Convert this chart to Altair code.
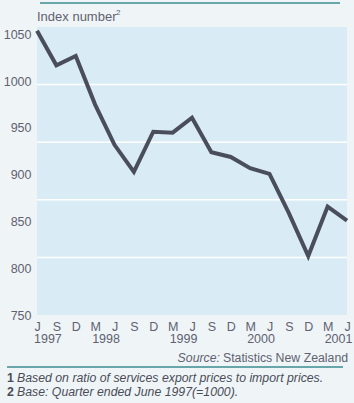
import json
import altair as alt
import pandas as pd

# ---- data ----
months = ["J", "S", "D", "M", "J", "S", "D", "M", "J", "S", "D", "M", "J", "S", "D", "M", "J"]
years = ["1997", "", "", "1998", "", "", "", "1999", "", "", "", "2000", "", "", "", "2001", ""]
values = [1054, 1017, 1027, 975, 932, 903, 946, 945, 961, 924, 919, 907, 901, 859, 813, 866, 851]
y_ticks = [750, 800, 850, 900, 950, 1000, 1050]
band_lines = [811.6, 873.2, 934.8, 996.4]

W, H = 310, 288
PL, PT = 37, 27
FONT = "Liberation Sans"
GREY = "#5f6170"
TEAL = "#3b8b90"

df = pd.DataFrame({"i": list(range(len(values))), "value": values,
                   "month": months, "year": years})
yr = df[df["year"] != ""]
bands = pd.DataFrame({"v": band_lines})

xs = alt.Scale(domain=[0, len(values) - 1], nice=False, zero=False)
ys = alt.Scale(domain=[750, 1058], nice=False, zero=False)

y_axis = alt.Axis(values=y_ticks, format="d", domain=False, ticks=False, grid=False,
                  labelFontSize=12.5, labelColor=GREY, labelFont=FONT,
                  labelPadding=6, labelOverlap=False)
x_axis = alt.Axis(values=list(range(len(values))),
                  labelExpr=json.dumps(months) + "[datum.value]",
                  domain=False, ticks=False, grid=False,
                  labelFontSize=12.5, labelColor=GREY, labelFont=FONT,
                  labelPadding=5, labelFlush=False, labelOverlap=False)

# white band lines on their own (identical) y scale, no axis
grid = alt.Chart(bands).mark_rule(color="white", strokeWidth=1.5).encode(
    y=alt.Y("v:Q", scale=alt.Scale(domain=[750, 1058], nice=False, zero=False), axis=None)
)

line = alt.Chart(df).mark_line(color="#4a4e5c", strokeWidth=4, strokeJoin="miter").encode(
    x=alt.X("i:Q", scale=xs, title=None, axis=x_axis),
    y=alt.Y("value:Q", scale=ys, title=None, axis=y_axis),
)

year_text = alt.Chart(yr).mark_text(align="left", baseline="middle", dx=-3,
                                    fontSize=12.5, font=FONT, color=GREY).encode(
    x=alt.X("i:Q", scale=xs, title=None, axis=x_axis),
    y=alt.value(339 - PT),
    text="year:N",
)

def txt(s, x, y, align="left", style="normal", weight="normal", size=12.3, color=GREY):
    return alt.Chart(pd.DataFrame({"t": [s]})).mark_text(
        align=align, baseline="middle", fontSize=size, font=FONT,
        fontStyle=style, fontWeight=weight, color=color
    ).encode(x=alt.value(x - PL), y=alt.value(y - PT), text="t:N")

def hrule(x1, x2, y, color=TEAL, w=1.5):
    return alt.Chart(pd.DataFrame({"a": [0]})).mark_rule(color=color, strokeWidth=w).encode(
        x=alt.value(x1 - PL), x2=alt.value(x2 - PL), y=alt.value(y - PT))

FN = "#4a4c58"
annotations = [
    hrule(40, 340, 3),
    txt("Index number", 37, 17, size=13),
    txt("2", 116, 13, size=8),
    txt("Source:", 220, 358, align="right", style="italic"),
    txt("Statistics New Zealand", 223, 358),
    hrule(7, 343, 367),
    txt("1", 7, 378, weight="bold", color=FN),
    txt("Based on ratio of services export prices to import prices.", 17, 378,
        style="italic", color=FN),
    txt("2", 7, 392, weight="bold", color=FN),
    txt("Base: Quarter ended June 1997(=1000).", 17, 392,
        style="italic", color=FN),
]

main = alt.layer(line, year_text, *annotations)

chart = alt.layer(grid, main).resolve_scale(y="independent").resolve_axis(
    y="independent"
).properties(
    width=W, height=H,
    autosize=alt.AutoSizeParams(type="none"),
    padding={"left": PL, "top": PT, "right": 354 - PL - W, "bottom": 403 - PT - H},
    background="#eff5f7",
).configure_view(fill="#d9ecf6", stroke=None)

chart.save("out.html", embed_options={"renderer": "svg", "actions": False})
